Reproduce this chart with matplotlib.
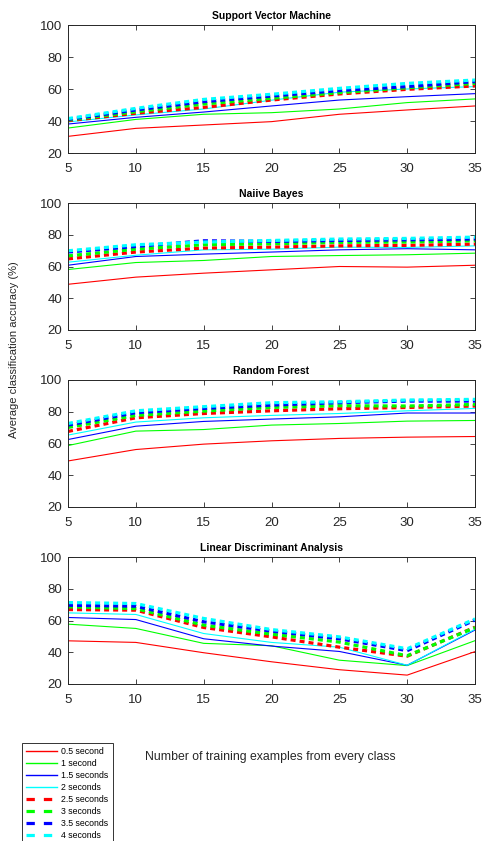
import numpy as np
import matplotlib
matplotlib.use('Agg')
import matplotlib.pyplot as plt
from matplotlib.lines import Line2D

plt.rcParams['font.family'] = ['Liberation Sans', 'DejaVu Sans']
plt.rcParams['lines.scale_dashes'] = False

# training examples per class
n_train = [5, 10, 15, 20, 25, 30, 35]

labels = ['0.5 second', '1 second', '1.5 seconds', '2 seconds',
          '2.5 seconds', '3 seconds', '3.5 seconds', '4 seconds']

titles = ['Support Vector Machine', 'Naiive Bayes', 'Random Forest',
          'Linear Discriminant Analysis']

# accuracy (%), one row per window length
svm = [
    [30.4, 35.4, 37.5, 39.6, 44.2, 46.9, 49.4],
    [35.6, 41.0, 44.2, 45.2, 47.5, 51.5, 53.8],
    [38.1, 42.3, 45.6, 49.4, 53.1, 55.2, 57.1],
    [39.4, 43.8, 47.5, 53.0, 58.0, 60.0, 61.5],
    [40.2, 44.8, 48.5, 53.1, 56.9, 59.8, 61.9],
    [40.6, 45.8, 50.6, 54.2, 57.7, 60.8, 63.5],
    [41.0, 46.9, 52.1, 55.6, 59.0, 61.5, 64.6],
    [41.5, 47.9, 53.5, 56.7, 60.4, 63.5, 65.6],
]
nb = [
    [48.8, 53.3, 55.8, 57.9, 60.0, 59.6, 60.8],
    [58.1, 62.5, 63.8, 66.3, 66.9, 67.4, 68.4],
    [60.8, 66.3, 67.8, 69.1, 70.5, 71.2, 70.5],
    [62.7, 67.1, 70.5, 70.9, 72.2, 72.0, 73.0],
    [64.8, 69.1, 71.6, 72.2, 73.0, 73.3, 74.1],
    [66.7, 70.9, 73.7, 74.3, 75.2, 75.4, 76.2],
    [69.1, 72.6, 76.2, 75.8, 76.4, 76.8, 77.3],
    [69.9, 73.7, 75.4, 76.4, 77.3, 77.7, 78.5],
]
rf = [
    [49.0, 56.2, 59.6, 61.7, 63.2, 64.0, 64.4],
    [58.7, 67.8, 68.8, 71.6, 72.6, 74.1, 74.5],
    [62.5, 70.9, 73.9, 75.4, 76.8, 79.2, 79.2],
    [65.3, 73.5, 76.2, 77.7, 78.9, 80.6, 82.1],
    [67.6, 76.2, 78.9, 80.6, 81.9, 82.7, 83.6],
    [70.1, 77.7, 80.4, 82.7, 83.8, 83.6, 84.6],
    [71.6, 79.4, 82.1, 84.2, 85.7, 86.7, 86.7],
    [72.6, 80.6, 83.2, 85.7, 86.3, 87.4, 87.8],
]
lda = [
    [47.2, 46.2, 39.7, 34.0, 29.0, 25.6, 40.4],
    [57.7, 55.0, 45.6, 44.1, 35.0, 31.6, 47.3],
    [61.9, 60.6, 48.5, 43.9, 40.5, 31.8, 54.0],
    [64.8, 63.8, 51.8, 46.2, 43.2, 31.8, 54.5],
    [66.9, 66.5, 55.6, 49.7, 43.2, 37.5, 55.8],
    [68.6, 67.5, 57.1, 51.4, 46.4, 37.8, 55.5],
    [69.6, 69.0, 59.2, 53.3, 48.5, 41.0, 60.3],
    [71.3, 70.7, 61.3, 54.3, 49.7, 42.2, 61.0],
]

colors = ['#ff0000', '#00ff00', '#0000ff', '#00ffff'] * 2
axis_col = '#262626'

fig = plt.figure(figsize=(4.84, 8.41), dpi=100)

# axes boxes in pixels (top, bottom), shared left/right
left, right = 68, 475
boxes = [(25, 153), (203, 330), (380, 507), (557, 684)]
W, H = 484.0, 841.0

for (top, bot), title, data in zip(boxes, titles, [svm, nb, rf, lda]):
    ax = fig.add_axes([left / W, 1 - bot / H, (right - left) / W, (bot - top) / H])
    for i, row in enumerate(data):
        if i < 4:
            ax.plot(n_train, row, color=colors[i], lw=0.8)
        else:
            ax.plot(n_train, row, color=colors[i], lw=2.3, dashes=(3.6, 2.9))
    ax.set_xlim(5, 35)
    ax.set_ylim(20, 100)
    ax.set_xticks(n_train)
    ax.set_yticks([20, 40, 60, 80, 100])
    ax.tick_params(direction='in', length=3.5, width=0.6, top=True, right=True,
                   labelsize=9.5, colors=axis_col, labelcolor=axis_col, pad=4)
    ax.tick_params(axis='x', pad=7)
    for sp in ax.spines.values():
        sp.set_color(axis_col)
        sp.set_linewidth(0.7)
    ax.set_title(title, fontsize=7.5, fontweight='bold', pad=4, color='black')

fig.text(14 / W, 1 - 350 / H, 'Average classification accuracy (%)',
         rotation=90, ha='center', va='center', fontsize=8, color=axis_col)
fig.text(270 / W, 1 - 757 / H, 'Number of training examples from every class',
         ha='center', va='center', fontsize=8.8, color=axis_col)

# legend proxies (longer dashes, like the reference legend)
handles = []
for i, lab in enumerate(labels):
    if i < 4:
        handles.append(Line2D([], [], color=colors[i], lw=1.0))
    else:
        handles.append(Line2D([], [], color=colors[i], lw=2.3, dashes=(6, 6.5)))
leg = fig.legend(handles, labels, loc='upper left',
                 bbox_to_anchor=(22 / W, 1 - 743 / H), fontsize=6.3,
                 frameon=True, fancybox=False, handlelength=3.5,
                 handletextpad=0.5, labelspacing=0.33, borderpad=0.5,
                 borderaxespad=0)
leg.get_frame().set_edgecolor('black')
leg.get_frame().set_linewidth(0.7)

fig.savefig('out.png', dpi=100)
